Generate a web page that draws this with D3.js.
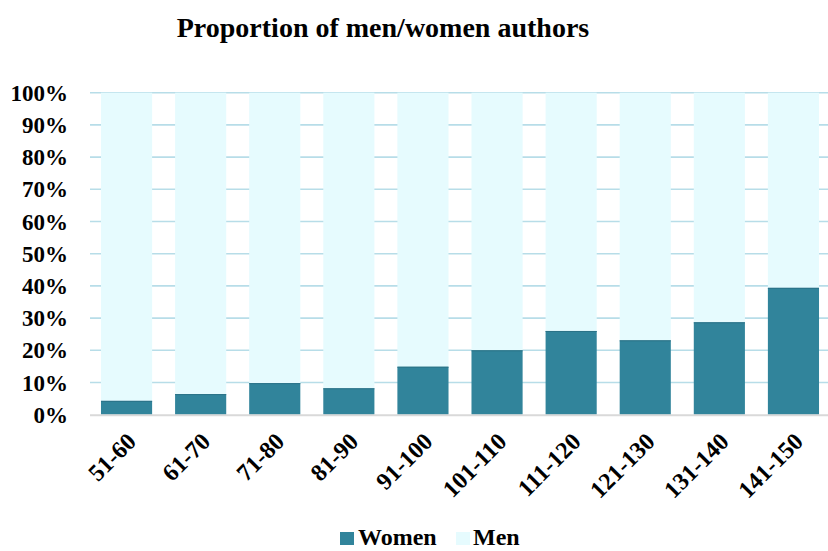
<!DOCTYPE html>
<html><head><meta charset="utf-8">
<script src="https://cdn.jsdelivr.net/npm/d3@7"></script>
<style>body{margin:0;background:#fff}svg{display:block}text{font-family:"Liberation Serif","Times New Roman",serif;font-weight:bold;fill:#000}</style>
</head><body><svg id="c" width="828" height="551"></svg>
<script>
const categories = ["51-60","61-70","71-80","81-90","91-100","101-110","111-120","121-130","131-140","141-150"];
const women = [4.3, 6.4, 9.8, 8.2, 14.9, 20.0, 26.0, 23.1, 28.7, 39.4];
const men = women.map(w => 100 - w);
const yTicks = [0,10,20,30,40,50,60,70,80,90,100];
const seriesNames = ["Women","Men"];
const colors = {Women:"#31849b", Men:"#e6fbfe"};

const svg = d3.select("#c");
const x = d3.scaleBand().domain(categories).range([89.5, 830.5]).paddingInner(0.31).paddingOuter(0.155);
const y = d3.scaleLinear().domain([0,100]).range([414.7, 92.7]);

svg.append("text").attr("x",383).attr("y",37).attr("text-anchor","middle").style("font-size","28px").text("Proportion of men/women authors");

// gridlines
svg.append("g").selectAll("line").data(yTicks.filter(t=>t>0)).join("line")
  .attr("x1",90).attr("x2",828).attr("y1",d=>y(d)).attr("y2",d=>y(d))
  .attr("stroke","#b7dde8").attr("stroke-width",1.6);

// y labels
svg.append("g").selectAll("text").data(yTicks).join("text")
  .attr("x",68).attr("y",d=>y(d)+8).attr("text-anchor","end").style("font-size","23px")
  .text(d=>d+"%");

// men bars
svg.append("g").selectAll("rect").data(categories).join("rect")
  .attr("x",d=>x(d)).attr("width",x.bandwidth())
  .attr("y",y(100)).attr("height",(d,i)=>y(women[i])-y(100))
  .attr("fill",colors.Men);

// women bars
svg.append("g").selectAll("rect").data(categories).join("rect")
  .attr("x",d=>x(d)).attr("width",x.bandwidth())
  .attr("y",(d,i)=>y(women[i])).attr("height",(d,i)=>y(0)-y(women[i]))
  .attr("fill",colors.Women);
// top edge
svg.append("g").selectAll("line").data(categories).join("line")
  .attr("x1",d=>x(d)).attr("x2",d=>x(d)+x.bandwidth())
  .attr("y1",(d,i)=>y(women[i])+0.5).attr("y2",(d,i)=>y(women[i])+0.5)
  .attr("stroke","#2b7287").attr("stroke-width",1);

// baseline
svg.append("line").attr("x1",90).attr("x2",828).attr("y1",y(0)+0.5).attr("y2",y(0)+0.5)
  .attr("stroke","#d9d9d9").attr("stroke-width",2);

// x labels
svg.append("g").selectAll("text").data(categories).join("text")
  .attr("transform",d=>`translate(${x(d)+x.bandwidth()/2+11},${443}) rotate(-45)`)
  .attr("text-anchor","end").style("font-size","24px").text(d=>d);

// legend
const leg = [{n:"Women",sx:340,tx:358},{n:"Men",sx:456,tx:473}];
const lg = svg.append("g");
lg.selectAll("rect").data(leg).join("rect").attr("x",d=>d.sx).attr("y",532).attr("width",14).attr("height",13).attr("fill",d=>colors[d.n]);
lg.selectAll("text").data(leg).join("text").attr("x",d=>d.tx).attr("y",545).style("font-size","24px").text(d=>d.n);
</script></body></html>
